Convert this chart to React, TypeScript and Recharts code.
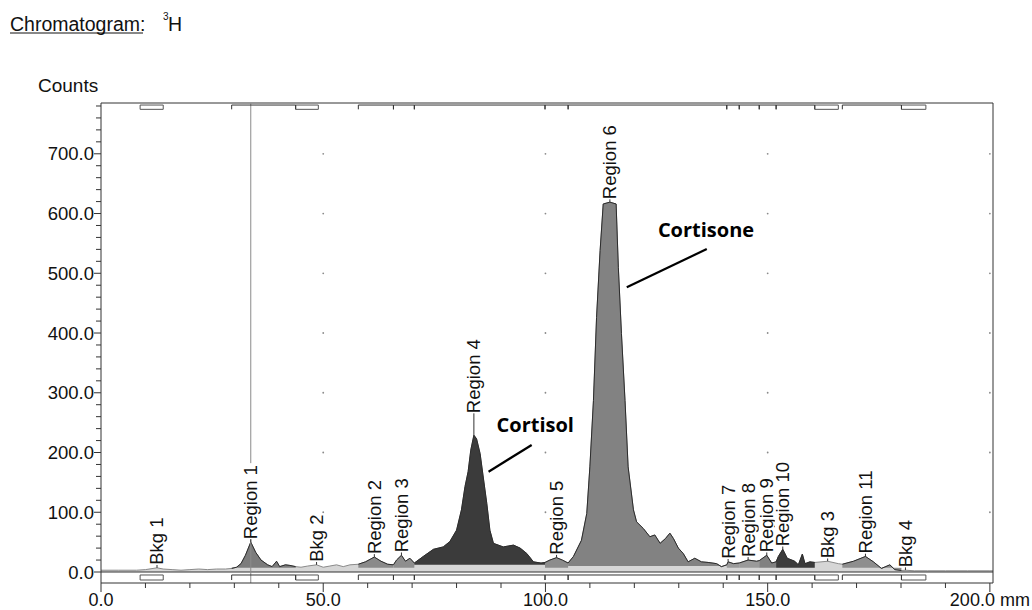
import {
  ComposedChart, Area, XAxis, YAxis, ReferenceLine, ReferenceArea, ReferenceDot,
} from "recharts"

// chromatogram trace, mm along the plate -> counts
const positions = [
  0, 4, 8, 10, 12.6, 14, 16, 18, 20, 22, 24, 26, 28, 29.4,
  30.5, 31.5, 32.5, 33.7, 34.8, 36, 37.5, 38.5, 39.5, 40.2, 41.5, 42.5, 43.8,
  45, 46.5, 48.5, 50, 51.5, 53, 54.5, 56, 57.9,
  59.5, 61.5, 63, 64.5, 65.8, 66.5, 67.6, 68.5, 69.5, 70.5,
  72.5, 74.8, 77, 78.5, 80, 81.1, 81.9, 82.6, 83.2, 83.9, 84.5, 85.3, 86, 86.8, 87.5, 88.3,
  90.5, 92.8, 94.3, 95.8, 97.3, 99, 99.9,
  101, 102.5, 103.8, 105.1,
  106.3, 108.1, 109.3, 110, 110.8, 111.5, 112.3, 113, 114.5, 115.9, 116.4, 117.1, 117.9,
  118.6, 119.8, 120.5, 122, 123.5, 124.6, 125.8, 127, 128, 128.8, 129.9, 131, 132.1,
  133.6, 135.1, 136.6, 138.5, 139.6, 140.8,
  141.1, 142.3, 143.6, 145.6, 147.5, 148.1, 149.8, 150.9, 151.9,
  152.4, 153.4, 154.4, 156.1, 156.9, 157.8, 158.4, 159.5, 160.6,
  163.5, 165.9, 166.8, 169.3, 172, 173.8, 175.6, 177.5, 178.6, 180.1,
  181, 183, 186, 190, 195, 200, 200.7,
]
const counts = [
  3, 3, 3, 4, 7, 5, 4, 3, 4, 5, 4, 5, 5, 6,
  8, 14, 28, 50, 33, 20, 12, 9, 18, 9, 12, 11, 9,
  8, 10, 12, 8, 10, 12, 9, 12, 13,
  17, 25, 18, 13, 12, 20, 28, 18, 23, 15,
  26, 38, 42, 51, 70, 104, 143, 168, 204, 229, 223, 198, 159, 115, 70, 48,
  42, 45, 40, 31, 17, 15, 16,
  20, 24, 20, 15,
  26, 53, 98, 176, 287, 426, 538, 616, 619, 616, 510, 399, 287,
  176, 104, 84, 73, 59, 62, 48, 56, 65, 56, 40, 31, 17,
  23, 17, 16, 14, 9, 12,
  17, 14, 15, 20, 18, 19, 28, 15, 17,
  26, 38, 23, 18, 12, 30, 14, 17, 16,
  18, 14, 13, 18, 26, 17, 6, 12, 4, 2.5,
  3, 2, 2, 2, 2, 2, 2,
]

// integration regions and background windows (mm)
const regionNames = [
  "Bkg 1", "Region 1", "Bkg 2", "Region 2", "Region 3", "Region 4", "Region 5", "Region 6",
  "Region 7", "Region 8", "Region 9", "Region 10", "Bkg 3", "Region 11", "Bkg 4",
]
const regionStart = [8.8, 29.4, 43.8, 57.9, 65.8, 70.5, 99.9, 105.1, 140.8, 143.6, 148.1, 151.9, 160.6, 166.8, 180.1]
const regionEnd = [14.0, 43.8, 48.9, 65.8, 70.5, 99.9, 105.1, 140.8, 143.6, 148.1, 151.9, 160.6, 165.9, 180.1, 185.6]

const xTicks = [0, 10, 20, 30, 40, 50, 60, 70, 80, 90, 100, 110, 120, 130, 140, 150, 160, 170, 180, 190, 200]
const xLabels: Record<number, string> = { 0: "0.0", 50: "50.0", 100: "100.0", 150: "150.0", 200: "200.0 mm" }
const yTicks = [
  0, 20, 40, 60, 80, 100, 120, 140, 160, 180, 200, 220, 240, 260, 280, 300, 320, 340, 360, 380,
  400, 420, 440, 460, 480, 500, 520, 540, 560, 580, 600, 620, 640, 660, 680, 700, 720, 740, 760, 780,
]
const yLabels: Record<number, string> = {
  0: "0.0", 100: "100.0", 200: "200.0", 300: "300.0", 400: "400.0", 500: "500.0", 600: "600.0", 700: "700.0",
}
const gridX = [50, 100, 150, 200]
const gridY = [100, 200, 300, 400, 500, 600, 700]

// hand-drawn annotations, in data units
const annotations = [
  { text: "Cortisol", x: 89.0, y: 234, from: { x: 96.9, y: 212.6 }, to: { x: 87.2, y: 167.9 } },
  { text: "Cortisone", x: 125.3, y: 561, from: { x: 136.3, y: 540.6 }, to: { x: 118.3, y: 476.5 } },
]

const X_MAX = 200.7
const Y_MIN = -18.4
const Y_MAX = 785
const PLOT_LEFT = 101
const PLOT_BOTTOM = 583
const FONT = "'Liberation Sans', Arial, sans-serif"
const FRAME = "#333"

const regionFill: Record<string, string> = {
  "Region 1": "#7c7c7c", "Region 2": "#8a8a8a", "Region 3": "#8e8e8e", "Region 4": "#3b3b3b",
  "Region 5": "#8c8c8c", "Region 6": "#828282", "Region 7": "#9a9a9a", "Region 8": "#9a9a9a",
  "Region 9": "#808080", "Region 10": "#3b3b3b", "Region 11": "#8e8e8e",
}
const regionBase: Record<string, number> = { "Region 4": 12, "Region 6": 10 }
const labelLift: Record<string, number> = { "Region 4": 19 }

const isBkg = (name: string) => name.startsWith("Bkg")

const rows = positions.map((x, i) => {
  const row: Record<string, number | null> = { x, all: counts[i] }
  regionNames.forEach((name, j) => {
    if (isBkg(name)) return
    row[`r${j}`] = x >= regionStart[j] && x <= regionEnd[j] ? counts[i] : null
  })
  return row
})

// label sits on the highest point inside each window
const peaks = regionNames.map((name, j) => {
  let best = -1
  positions.forEach((x, i) => {
    if (x >= regionStart[j] && x <= regionEnd[j] && (best < 0 || counts[i] > counts[best])) best = i
  })
  return { name, x: positions[best], y: counts[best] }
})

function XTick(props: any) {
  const { x, payload } = props
  const v = payload.value
  const major = v % 50 === 0
  return (
    <g>
      <line x1={x} x2={x} y1={PLOT_BOTTOM} y2={PLOT_BOTTOM + (major ? 9 : 5)} stroke={FRAME} />
      {major && (
        <text x={x} y={606} textAnchor="middle" fontSize={18} fontFamily={FONT} fill="#111">
          {xLabels[v]}
        </text>
      )}
    </g>
  )
}

function YTick(props: any) {
  const { y, payload } = props
  const v = payload.value
  const label = yLabels[v]
  return (
    <g>
      <line x1={PLOT_LEFT - (label ? 7 : 5)} x2={PLOT_LEFT} y1={y} y2={y} stroke={FRAME} />
      {label && (
        <text x={PLOT_LEFT - 7} y={y + 6.5} textAnchor="end" fontSize={18.5} fontFamily={FONT} fill="#111">
          {label}
        </text>
      )}
    </g>
  )
}

function PeakLabel(props: any) {
  const { cx, cy, text, lift } = props
  const fs = 18.5
  const bottom = cy - 3 - lift
  const len = text.length * fs * 0.5
  const bx = cx + 6.5
  return (
    <g>
      <line x1={cx} x2={cx} y1={cy} y2={bottom} stroke="#333" />
      <rect x={cx - 8} y={bottom - len - 2} width={18} height={len + 2} fill="#fff" />
      <text x={bx} y={bottom} transform={`rotate(-90 ${bx} ${bottom})`} fontSize={fs} fontFamily={FONT} fill="#111">
        {text}
      </text>
    </g>
  )
}

function NoteText(props: any) {
  const { cx, cy, text } = props
  return (
    <text x={cx} y={cy} fontSize={20} fontWeight={700} fontFamily="'Open Sans', sans-serif" fill="#000">
      {text}
    </text>
  )
}

// bracket / box strips hanging under the top frame and under the zero line
const strips = [
  { line: -5, tip: -13.4 },
  { line: 781.6, tip: 774.4 },
]

export default function App() {
  return (
    <div style={{ position: "absolute", left: 0, top: 0, width: 1032, height: 610, background: "#fff" }}>
      <svg width={1032} height={110} style={{ position: "absolute", left: 0, top: 0 }}>
        <text x={10} y={31} fontSize={19.5} fontFamily={FONT} fill="#111">Chromatogram:</text>
        <line x1={10} x2={143} y1={33} y2={33} stroke="#111" />
        <text x={163} y={20} fontSize={10} fontFamily={FONT} fill="#111">3</text>
        <text x={168} y={31} fontSize={19.5} fontFamily={FONT} fill="#111">H</text>
        <text x={38} y={92} fontSize={19} fontFamily={FONT} fill="#111">Counts</text>
      </svg>
      <div style={{ position: "absolute", left: 0, top: 0 }}>
        <ComposedChart
          width={1032}
          height={610}
          data={rows}
          margin={{ top: 103, right: 39, bottom: 0, left: 41 }}
        >
          <XAxis
            type="number"
            dataKey="x"
            domain={[0, X_MAX]}
            ticks={xTicks}
            interval={0}
            allowDataOverflow
            tick={(p: any) => <XTick {...p} />}
            tickLine={false}
            axisLine={{ stroke: FRAME }}
            height={27}
          />
          <YAxis
            type="number"
            domain={[Y_MIN, Y_MAX]}
            ticks={yTicks}
            interval={0}
            allowDataOverflow
            tick={(p: any) => <YTick {...p} />}
            tickLine={false}
            axisLine={{ stroke: FRAME }}
            width={60}
          />

          {gridX.map((gx) =>
            gridY.map((gy) => (
              <ReferenceDot key={`g${gx}-${gy}`} x={gx} y={gy} r={0.9} fill="#8a8a8a" stroke="none" />
            ))
          )}

          <Area
            type="linear"
            dataKey="all"
            baseValue={0}
            stroke="#8a8a8a"
            strokeWidth={1}
            fill="#d6d6d6"
            fillOpacity={1}
            dot={false}
            activeDot={false}
            isAnimationActive={false}
          />
          {regionNames.map((name, j) =>
            isBkg(name) ? null : (
              <Area
                key={name}
                type="linear"
                dataKey={`r${j}`}
                baseValue={regionBase[name] ?? 7}
                stroke="#2b2b2b"
                strokeWidth={1}
                fill={regionFill[name]}
                fillOpacity={1}
                connectNulls={false}
                dot={false}
                activeDot={false}
                isAnimationActive={false}
              />
            )
          )}

          <ReferenceLine y={0} stroke={FRAME} ifOverflow="visible" />
          <ReferenceLine y={Y_MAX} stroke={FRAME} ifOverflow="visible" />
          <ReferenceLine x={X_MAX} stroke={FRAME} ifOverflow="visible" />
          <ReferenceLine x={33.7} stroke="#8a8a8a" ifOverflow="visible" />

          {strips.map((s, k) =>
            regionNames.map((name, j) =>
              isBkg(name) ? (
                <ReferenceArea
                  key={`b${k}-${j}`}
                  x1={regionStart[j]}
                  x2={regionEnd[j]}
                  y1={s.tip}
                  y2={s.line}
                  fill="#fff"
                  fillOpacity={1}
                  stroke="#555"
                  ifOverflow="visible"
                />
              ) : (
                [
                  <ReferenceLine key={`h${k}-${j}`} ifOverflow="visible" stroke="#333"
                    segment={[{ x: regionStart[j], y: s.line }, { x: regionEnd[j], y: s.line }]} />,
                  <ReferenceLine key={`s${k}-${j}`} ifOverflow="visible" stroke="#333"
                    segment={[{ x: regionStart[j], y: s.line }, { x: regionStart[j], y: s.tip }]} />,
                  <ReferenceLine key={`e${k}-${j}`} ifOverflow="visible" stroke="#333"
                    segment={[{ x: regionEnd[j], y: s.line }, { x: regionEnd[j], y: s.tip }]} />,
                ]
              )
            )
          )}

          {peaks.map((p) => (
            <ReferenceDot
              key={`l-${p.name}`}
              x={p.x}
              y={p.y}
              ifOverflow="visible"
              shape={(sp: any) => <PeakLabel {...sp} text={p.name} lift={labelLift[p.name] ?? 0} />}
            />
          ))}

          {annotations.map((a) => (
            <ReferenceLine key={`al-${a.text}`} ifOverflow="visible" stroke="#000" strokeWidth={2.2}
              segment={[a.from, a.to]} />
          ))}
          {annotations.map((a) => (
            <ReferenceDot
              key={`at-${a.text}`}
              x={a.x}
              y={a.y}
              ifOverflow="visible"
              shape={(sp: any) => <NoteText {...sp} text={a.text} />}
            />
          ))}
        </ComposedChart>
      </div>
    </div>
  )
}
